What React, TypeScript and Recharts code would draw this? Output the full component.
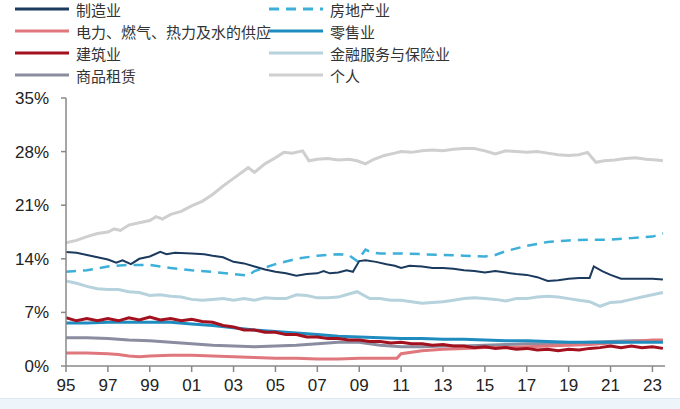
import { Line, LineChart, XAxis, YAxis } from "recharts";

// [year, share %]
const PERSONAL: [number, number][] = [
  [1995, 16.1], [1995.5, 16.4], [1996, 16.9], [1996.5, 17.3], [1997, 17.5], [1997.3, 17.9],
  [1997.6, 17.7], [1998, 18.4], [1998.5, 18.7], [1999, 19.0], [1999.3, 19.5], [1999.6, 19.2],
  [2000, 19.8], [2000.5, 20.2], [2001, 20.9], [2001.5, 21.5], [2002, 22.4], [2002.5, 23.5],
  [2003, 24.5], [2003.7, 25.9], [2004, 25.3], [2004.5, 26.4], [2005, 27.2], [2005.4, 27.9],
  [2005.8, 27.8], [2006.3, 28.1], [2006.6, 26.8], [2007, 27.0], [2007.5, 27.1], [2008, 26.9],
  [2008.5, 27.0], [2008.9, 26.8], [2009.3, 26.4], [2009.7, 27.0], [2010.2, 27.5], [2010.7, 27.8],
  [2011, 28.0], [2011.5, 27.9], [2012, 28.1], [2012.5, 28.2], [2013, 28.1], [2013.5, 28.3],
  [2014, 28.4], [2014.5, 28.4], [2015, 28.1], [2015.5, 27.7], [2016, 28.1], [2016.5, 28.0],
  [2017, 27.9], [2017.5, 28.0], [2018, 27.8], [2018.5, 27.6], [2019, 27.5], [2019.5, 27.6],
  [2019.9, 27.9], [2020.3, 26.6], [2020.7, 26.8], [2021.2, 26.9], [2021.7, 27.1], [2022.2, 27.2],
  [2022.7, 27.0], [2023.2, 26.9], [2023.5, 26.8],
];

const MANUFACTURING: [number, number][] = [
  [1995, 14.9], [1995.5, 14.8], [1996, 14.5], [1996.5, 14.2], [1997, 13.9], [1997.4, 13.5],
  [1997.7, 13.8], [1998.1, 13.3], [1998.5, 14.0], [1999, 14.3], [1999.5, 14.9], [1999.8, 14.6],
  [2000.2, 14.8], [2001, 14.7], [2001.6, 14.6], [2002, 14.4], [2002.5, 14.2], [2003, 13.6],
  [2003.5, 13.4], [2004, 13.0], [2004.5, 12.6], [2005, 12.3], [2005.5, 12.1], [2006, 11.8],
  [2006.5, 12.0], [2007, 12.1], [2007.3, 12.4], [2007.6, 12.1], [2008, 12.2], [2008.4, 12.5],
  [2008.7, 12.3], [2009, 13.7], [2009.3, 13.8], [2009.8, 13.6], [2010.3, 13.3], [2010.7, 13.1],
  [2011, 12.8], [2011.4, 13.1], [2012, 13.0], [2012.5, 12.8], [2013, 12.8], [2013.5, 12.7],
  [2014, 12.5], [2014.5, 12.4], [2015, 12.2], [2015.5, 12.4], [2016, 12.2], [2016.5, 12.0],
  [2017, 11.9], [2017.5, 11.6], [2018, 11.1], [2018.5, 11.2], [2019, 11.4], [2019.5, 11.5],
  [2020, 11.5], [2020.2, 13.0], [2020.6, 12.4], [2021, 11.9], [2021.5, 11.4], [2022, 11.4],
  [2022.5, 11.4], [2023, 11.4], [2023.5, 11.3],
];

const REAL_ESTATE: [number, number][] = [
  [1995, 12.3], [1996, 12.5], [1997, 13.0], [1998, 13.2], [1999, 13.2], [2000, 12.8],
  [2001, 12.5], [2002, 12.3], [2003, 12.0], [2003.7, 11.8], [2004, 12.4], [2005, 13.3],
  [2006, 14.0], [2007, 14.4], [2008, 14.6], [2008.5, 14.5], [2008.9, 13.7], [2009.3, 15.2],
  [2009.6, 14.8], [2010, 14.7], [2011, 14.7], [2012, 14.6], [2013, 14.5], [2014, 14.4],
  [2015, 14.3], [2015.5, 14.5], [2016, 15.0], [2017, 15.7], [2018, 16.2], [2019, 16.4],
  [2020, 16.5], [2021, 16.5], [2022, 16.7], [2023, 16.9], [2023.5, 17.3],
];

const FINANCE: [number, number][] = [
  [1995, 11.1], [1995.5, 10.8], [1996, 10.4], [1996.5, 10.1], [1997, 10.0], [1997.5, 10.0],
  [1998, 9.7], [1998.5, 9.6], [1999, 9.2], [1999.5, 9.3], [2000, 9.1], [2000.5, 9.0],
  [2001, 8.7], [2001.5, 8.6], [2002, 8.7], [2002.5, 8.8], [2003, 8.6], [2003.5, 8.8],
  [2004, 8.6], [2004.5, 8.9], [2005, 8.8], [2005.5, 8.8], [2006, 9.3], [2006.5, 9.2],
  [2007, 8.9], [2007.5, 8.9], [2008, 9.0], [2008.5, 9.4], [2008.9, 9.7], [2009.5, 8.8],
  [2010, 8.8], [2010.5, 8.6], [2011, 8.6], [2011.5, 8.4], [2012, 8.2], [2012.5, 8.3],
  [2013, 8.4], [2013.5, 8.6], [2014, 8.8], [2014.5, 8.9], [2015, 8.8], [2015.5, 8.7],
  [2016, 8.5], [2016.5, 8.8], [2017, 8.8], [2017.5, 9.0], [2018, 9.1], [2018.5, 9.0],
  [2019, 8.8], [2019.5, 8.6], [2020, 8.4], [2020.5, 7.8], [2021, 8.3], [2021.5, 8.4],
  [2022, 8.7], [2022.5, 9.0], [2023, 9.3], [2023.5, 9.6],
];

const CONSTRUCTION: [number, number][] = [
  [1995, 6.3], [1995.5, 5.9], [1996, 6.2], [1996.5, 5.9], [1997, 6.2], [1997.5, 5.9],
  [1998, 6.3], [1998.5, 6.0], [1999, 6.4], [1999.5, 6.0], [2000, 6.2], [2000.5, 5.9],
  [2001, 6.1], [2001.5, 5.8], [2002, 5.7], [2002.5, 5.3], [2003, 5.1], [2003.5, 4.7],
  [2004, 4.7], [2004.5, 4.4], [2005, 4.4], [2005.5, 4.1], [2006, 4.1], [2006.5, 3.8],
  [2007, 3.8], [2007.5, 3.6], [2008, 3.6], [2008.5, 3.4], [2009, 3.4], [2009.5, 3.2],
  [2010, 3.2], [2010.5, 3.0], [2011, 3.1], [2011.5, 2.9], [2012, 2.9], [2012.5, 2.7],
  [2013, 2.8], [2013.5, 2.6], [2014, 2.6], [2014.5, 2.4], [2015, 2.5], [2015.5, 2.3],
  [2016, 2.4], [2016.5, 2.2], [2017, 2.3], [2017.5, 2.1], [2018, 2.2], [2018.5, 2.0],
  [2019, 2.2], [2019.5, 2.1], [2020, 2.3], [2020.5, 2.4], [2021, 2.6], [2021.5, 2.4],
  [2022, 2.6], [2022.5, 2.4], [2023, 2.5], [2023.5, 2.3],
];

const RETAIL: [number, number][] = [
  [1995, 5.6], [1996, 5.6], [1997, 5.7], [1998, 5.7], [1999, 5.7], [2000, 5.7],
  [2001, 5.5], [2002, 5.3], [2003, 5.0], [2004, 4.7], [2005, 4.5], [2006, 4.3],
  [2007, 4.1], [2008, 3.9], [2009, 3.8], [2010, 3.7], [2011, 3.6], [2012, 3.6],
  [2013, 3.5], [2014, 3.5], [2015, 3.4], [2016, 3.3], [2017, 3.3], [2018, 3.2],
  [2019, 3.1], [2020, 3.1], [2021, 3.1], [2022, 3.1], [2023, 3.1], [2023.5, 3.1],
];

const LEASING: [number, number][] = [
  [1995, 3.7], [1996, 3.7], [1997, 3.6], [1998, 3.4], [1999, 3.3], [2000, 3.1],
  [2001, 2.9], [2002, 2.7], [2003, 2.6], [2004, 2.5], [2005, 2.6], [2006, 2.7],
  [2007, 2.9], [2008, 3.1], [2009, 3.1], [2010, 2.7], [2011, 2.5], [2012, 2.5],
  [2013, 2.6], [2014, 2.6], [2015, 2.7], [2016, 2.8], [2017, 2.9], [2018, 2.9],
  [2019, 3.0], [2020, 3.1], [2021, 3.2], [2022, 3.3], [2023, 3.3], [2023.5, 3.3],
];

const UTILITIES: [number, number][] = [
  [1995, 1.7], [1996, 1.7], [1997, 1.6], [1997.5, 1.5], [1998, 1.3], [1998.5, 1.2],
  [1999, 1.3], [2000, 1.4], [2001, 1.4], [2002, 1.3], [2003, 1.2], [2004, 1.1],
  [2005, 1.0], [2006, 1.0], [2007, 0.9], [2008, 0.9], [2009, 1.0], [2010, 1.0],
  [2010.8, 1.0], [2011, 1.6], [2012, 2.0], [2013, 2.2], [2014, 2.3], [2015, 2.4],
  [2016, 2.4], [2017, 2.5], [2018, 2.6], [2019, 2.7], [2020, 2.8], [2021, 3.0],
  [2022, 3.2], [2023, 3.4], [2023.5, 3.4],
];

const Y_TICKS = [0, 7, 14, 21, 28, 35];
const X_TICKS = [1995, 1997, 1999, 2001, 2003, 2005, 2007, 2009, 2011, 2013, 2015, 2017, 2019, 2021, 2023];

type Series = {
  name: string;
  points: [number, number][];
  color: string;
  width: number;
  dash?: string;
};

// legend order (two columns, left then right)
const LEFT: Series[] = [
  { name: "制造业", points: MANUFACTURING, color: "#1b3a5e", width: 2 },
  { name: "电力、燃气、热力及水的供应", points: UTILITIES, color: "#e0777d", width: 3 },
  { name: "建筑业", points: CONSTRUCTION, color: "#a3111f", width: 3 },
  { name: "商品租赁", points: LEASING, color: "#8a8ca0", width: 3 },
];
const RIGHT: Series[] = [
  { name: "房地产业", points: REAL_ESTATE, color: "#3cb0d8", width: 2.5, dash: "10 7" },
  { name: "零售业", points: RETAIL, color: "#1f8cc0", width: 3 },
  { name: "金融服务与保险业", points: FINANCE, color: "#b6d2dd", width: 3 },
  { name: "个人", points: PERSONAL, color: "#cfcfcf", width: 3 },
];

// draw order: background lines first, construction on top
const DRAW = [RIGHT[3], RIGHT[2], RIGHT[0], LEFT[0], LEFT[3], LEFT[1], RIGHT[1], LEFT[2]];

const rows = (pts: [number, number][]) => pts.map(([t, v]) => ({ t, v }));

function LegendItem({ s, x, y }: { s: Series; x: number; y: number }) {
  return (
    <div style={{ position: "absolute", left: x, top: y - 10, height: 20, display: "flex", alignItems: "center" }}>
      <svg width={54} height={6} style={{ marginRight: 7 }}>
        <line x1={0} y1={3} x2={54} y2={3} stroke={s.color} strokeWidth={3} strokeDasharray={s.dash} />
      </svg>
      <span style={{ fontSize: 15, color: "#333", whiteSpace: "nowrap" }}>{s.name}</span>
    </div>
  );
}

export default function App() {
  const axisTick = { fontSize: 17, fill: "#222", fontFamily: "'Liberation Sans', Arial, sans-serif" };
  return (
    <div
      style={{
        position: "absolute",
        left: 0,
        top: 0,
        width: 680,
        height: 409,
        background: "#fff",
        fontFamily: "'Noto Sans CJK SC', sans-serif",
        overflow: "hidden",
      }}
    >
      {LEFT.map((s, i) => (
        <LegendItem key={s.name} s={s} x={15} y={9 + i * 22} />
      ))}
      {RIGHT.map((s, i) => (
        <LegendItem key={s.name} s={s} x={269} y={9 + i * 22} />
      ))}
      <LineChart width={680} height={409} margin={{ top: 98, right: 15, bottom: 13, left: 0 }}>
        <XAxis
          type="number"
          dataKey="t"
          domain={[1995, 2023.6]}
          ticks={X_TICKS}
          allowDataOverflow
          tickFormatter={(v: number) => String(v % 100).padStart(2, "0")}
          tick={axisTick}
          tickSize={6}
          tickMargin={7}
          height={30}
          stroke="#888"
          strokeWidth={1.5}
        />
        <YAxis
          type="number"
          domain={[0, 35]}
          ticks={Y_TICKS}
          tickFormatter={(v: number) => `${v}%`}
          tick={axisTick}
          tickSize={5}
          tickMargin={12}
          width={66}
          stroke="#888"
          strokeWidth={1.5}
        />
        {DRAW.map((s) => (
          <Line
            key={s.name}
            data={rows(s.points)}
            dataKey="v"
            name={s.name}
            type="linear"
            stroke={s.color}
            strokeWidth={s.width}
            strokeDasharray={s.dash}
            dot={false}
            activeDot={false}
            isAnimationActive={false}
          />
        ))}
      </LineChart>
      <div
        style={{
          position: "absolute",
          left: 0,
          top: 398,
          width: 680,
          height: 11,
          background: "#eef5fa",
          borderTop: "1px solid #dde9f2",
        }}
      />
    </div>
  );
}
